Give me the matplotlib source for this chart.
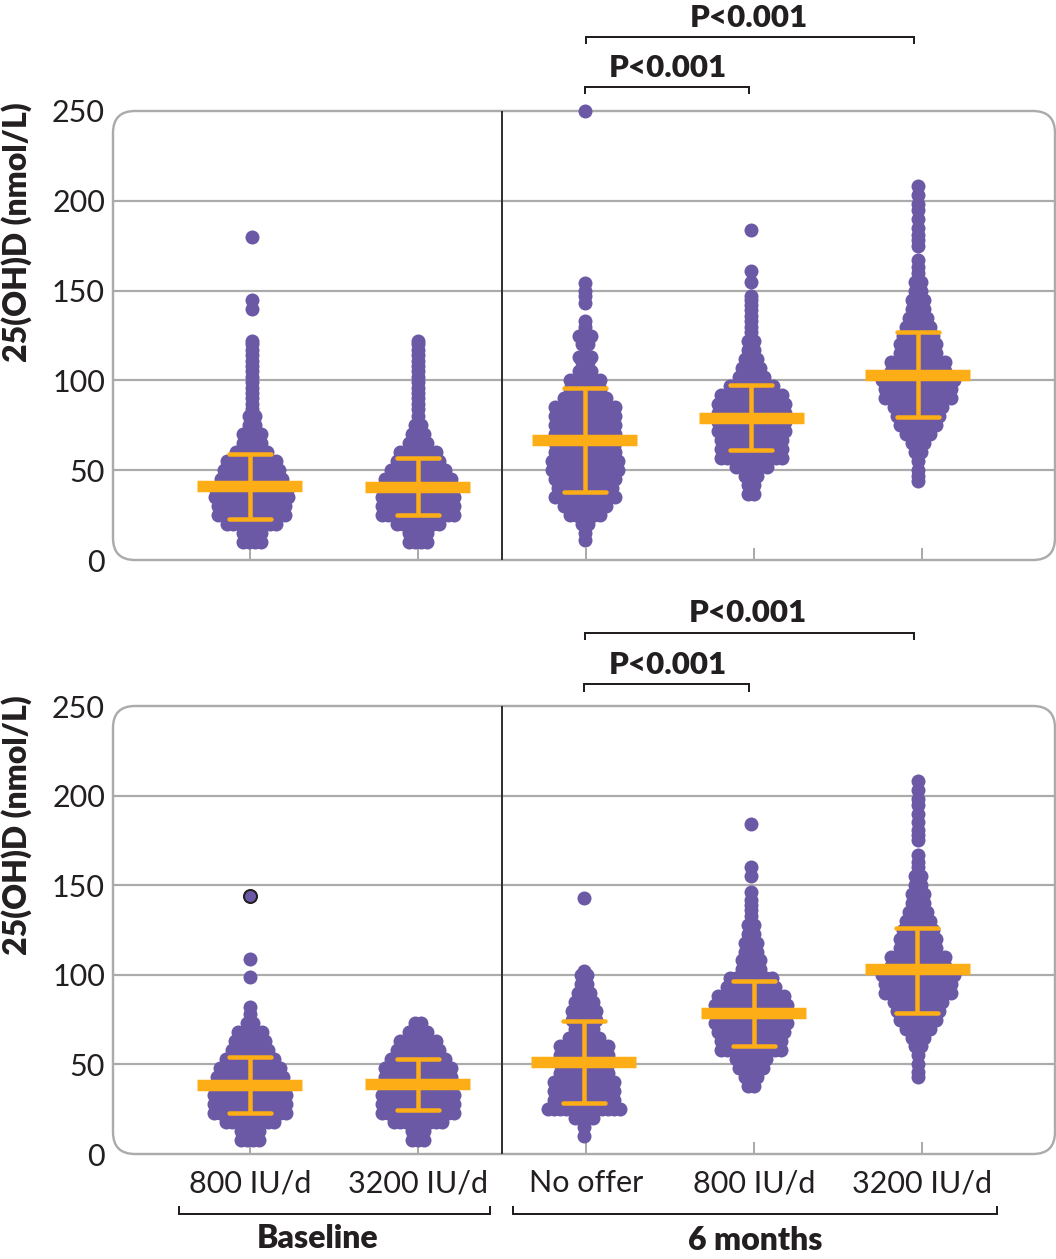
import numpy as np
import matplotlib
matplotlib.use('Agg')
import matplotlib.pyplot as plt
from matplotlib.patches import FancyBboxPatch

plt.rcParams['font.family'] = ['Lato', 'DejaVu Sans']

groups = ['800 IU/d', '3200 IU/d', 'No offer', '800 IU/d', '3200 IU/d']
yticks = [0, 50, 100, 150, 200, 250]
gridlines = [50, 100, 150, 200]

top_levels = [
    [10, 15, 20, 25, 30, 35, 40, 45, 50, 55, 60, 65, 70, 75, 80, 84, 87, 90, 93, 96, 99, 102, 105, 108, 111, 114, 117, 120, 122, 140, 145, 180],
    [10, 15, 20, 25, 30, 35, 40, 45, 50, 55, 60, 65, 70, 75, 80, 84, 87, 90, 93, 96, 99, 102, 105, 108, 111, 114, 117, 120, 122],
    [11, 15, 20, 25, 30, 35, 40, 45, 50, 55, 60, 65, 70, 75, 80, 85, 90, 95, 100, 105, 110, 113, 120, 125, 130, 133, 143, 147, 150, 154, 250],
    [37, 42, 47, 52, 57, 62, 67, 72, 77, 82, 87, 92, 97, 102, 107, 112, 117, 122, 127, 130, 133, 136, 139, 142, 145, 147, 155, 161, 184],
    [44, 47, 50, 55, 60, 65, 70, 75, 80, 85, 90, 95, 100, 105, 110, 115, 120, 125, 130, 135, 140, 145, 150, 155, 160, 163, 167, 175, 178, 181, 185, 190, 195, 198, 203, 208],
]
top_counts = [
    [4, 4, 9, 12, 12, 13, 13, 11, 10, 9, 6, 4, 4, 2, 2, 1, 1, 1, 1, 1, 1, 1, 1, 1, 1, 1, 1, 1, 1, 1, 1, 1],
    [4, 4, 8, 13, 13, 13, 12, 12, 10, 8, 7, 4, 3, 2, 1, 1, 1, 1, 1, 1, 1, 1, 1, 1, 1, 1, 1, 1, 1],
    [1, 1, 2, 6, 8, 11, 10, 11, 12, 12, 11, 11, 11, 11, 11, 11, 8, 6, 6, 3, 2, 3, 2, 3, 1, 1, 1, 1, 1, 1, 1],
    [2, 2, 3, 6, 11, 11, 11, 12, 12, 12, 12, 11, 8, 5, 4, 3, 2, 2, 1, 1, 1, 1, 1, 1, 1, 1, 1, 1, 1],
    [1, 1, 1, 1, 2, 3, 5, 7, 8, 9, 12, 12, 13, 10, 10, 7, 7, 6, 5, 4, 3, 3, 2, 2, 1, 1, 1, 1, 1, 1, 1, 1, 1, 1, 1, 1],
]
bottom_levels = [
    [8, 13, 18, 23, 28, 33, 38, 43, 48, 53, 58, 63, 68, 73, 78, 82, 99, 109, 144],
    [8, 13, 18, 23, 28, 33, 38, 43, 48, 53, 58, 63, 68, 73],
    [10, 15, 20, 25, 30, 35, 40, 45, 50, 55, 60, 65, 70, 75, 80, 85, 90, 95, 100, 102, 143],
    [38, 43, 48, 53, 58, 63, 68, 73, 78, 83, 88, 93, 98, 103, 108, 113, 118, 123, 128, 133, 136, 139, 142, 146, 155, 160, 184],
    [43, 46, 50, 55, 60, 65, 70, 75, 80, 85, 90, 95, 100, 105, 110, 115, 120, 125, 130, 135, 140, 145, 150, 155, 160, 163, 167, 175, 178, 181, 185, 190, 195, 198, 203, 208],
]
bottom_counts = [
    [4, 4, 9, 13, 13, 13, 12, 12, 11, 9, 7, 6, 5, 2, 1, 1, 1, 1, 1],
    [3, 3, 9, 13, 13, 13, 12, 12, 12, 10, 8, 7, 4, 2],
    [1, 1, 4, 13, 11, 11, 11, 9, 9, 9, 9, 6, 4, 5, 5, 4, 3, 2, 2, 1, 1],
    [2, 3, 5, 6, 11, 11, 12, 13, 13, 13, 12, 9, 8, 4, 4, 3, 3, 2, 2, 1, 1, 1, 1, 1, 1, 1, 1],
    [1, 1, 1, 1, 2, 3, 5, 7, 8, 9, 12, 12, 13, 10, 10, 7, 7, 6, 5, 4, 3, 3, 2, 2, 1, 1, 1, 1, 1, 1, 1, 1, 1, 1, 1, 1],
]

top_mean = [41, 40.5, 67, 79, 103]
top_hi = [59, 57, 95.5, 97.5, 127]
top_lo = [23, 25, 38, 61, 79.5]
bottom_mean = [38.5, 39, 51.5, 78.5, 103]
bottom_hi = [54, 53, 74, 96.5, 126]
bottom_lo = [23, 24.5, 28.5, 60, 78.5]

W, H = 1056, 1259
PURPLE = '#6B59A6'
ORANGE = '#FDAE17'
GREY = '#ABABAB'
DARK = '#231F20'

# the swarms sit slightly off the tick marks in the original
top_swarm_x = [0.01, 1.0, 1.994, 2.985, 3.976]
top_bar_x = [0.0, 1.0, 1.994, 2.985, 3.976]
bottom_swarm_x = [0.0, 1.0, 1.988, 2.982, 3.976]
bottom_bar_x = [0.0, 1.0, 1.988, 3.0, 3.973]


def px(n):
    return n * 72 / 100


def draw_panel(ax, levels, counts, swarm_x, bar_x, mean, hi, lo):
    ax.set_xlim(-0.815, 4.792)
    ax.set_ylim(0, 250)
    for s in ax.spines.values():
        s.set_visible(False)
    ax.patch.set_visible(False)
    ax.set_yticks(yticks)
    ax.set_xticks(range(5))
    ax.hlines(gridlines, -0.815, 4.792, color=GREY, lw=px(2.2), zorder=1)
    ax.tick_params(axis='y', length=0, pad=px(8), labelsize=22, labelcolor=DARK)
    ax.tick_params(axis='x', direction='in', length=px(12), width=px(2), color=GREY,
                   labelsize=22, labelcolor=DARK, pad=px(15))

    bw, bh = ax.get_position().width * W, ax.get_position().height * H
    frame = FancyBboxPatch((0, 0), 1, 1, transform=ax.transAxes, fill=False, ec=GREY, lw=px(2.4),
                           boxstyle='round,pad=0,rounding_size=%f' % (22 / bw),
                           mutation_aspect=bw / bh, clip_on=False, zorder=2)
    ax.add_patch(frame)
    ax.axvline(1.5, color='#333333', lw=px(2), zorder=2)

    for i in range(5):
        xs, ys = [], []
        for v, n in zip(levels[i], counts[i]):
            xs.extend(swarm_x[i] + (np.arange(n) - (n - 1) / 2) * 0.036)
            ys.extend([v] * n)
        ax.scatter(xs, ys, s=px(14) ** 2, color=PURPLE, lw=0, clip_on=False, zorder=3)

        x = bar_x[i]
        ax.plot([x, x], [lo[i], hi[i]], color=ORANGE, lw=px(4.5), zorder=4, solid_capstyle='butt')
        for y in (lo[i], hi[i]):
            ax.plot([x - 0.125, x + 0.125], [y, y], color=ORANGE, lw=px(4.5), zorder=4,
                    solid_capstyle='round')
        ax.plot([x - 0.3125, x + 0.3125], [mean[i], mean[i]], color=ORANGE, lw=px(11.5), zorder=4,
                solid_capstyle='butt')


def bracket(ax, x0, x1, y, drop):
    ax.plot([x0, x0, x1, x1], [y + drop, y, y, y + drop], color=DARK, lw=px(2), clip_on=False,
            solid_joinstyle='miter')


fig = plt.figure(figsize=(W / 100, H / 100), dpi=100)
ax1 = fig.add_axes([113 / W, 1 - 560 / H, 942 / W, 449 / H])
ax2 = fig.add_axes([113 / W, 1 - 1154 / H, 942 / W, 448 / H])

draw_panel(ax1, top_levels, top_counts, top_swarm_x, top_bar_x, top_mean, top_hi, top_lo)
draw_panel(ax2, bottom_levels, bottom_counts, bottom_swarm_x, bottom_bar_x, bottom_mean, bottom_hi, bottom_lo)

# dot with the dark ring in the lower panel
ax2.scatter([0], [144], s=px(13) ** 2, color=PURPLE, ec=DARK, lw=px(2), zorder=5)

ax1.set_xticklabels([])
ax2.set_xticklabels(groups)

# P value brackets
bracket(ax1, 2.0, 3.952, 291.2, -3.4)
bracket(ax1, 1.994, 2.97, 263.4, -3.4)
ax1.text(2.97, 301.8, 'P<0.001', ha='center', va='center', fontsize=22.5, fontweight='heavy', color=DARK)
ax1.text(2.485, 273.9, 'P<0.001', ha='center', va='center', fontsize=22.5, fontweight='heavy', color=DARK)
bracket(ax2, 1.994, 3.952, 291, -3.4)
bracket(ax2, 1.988, 2.97, 262, -3.4)
ax2.text(2.965, 302, 'P<0.001', ha='center', va='center', fontsize=22.5, fontweight='heavy', color=DARK)
ax2.text(2.485, 273, 'P<0.001', ha='center', va='center', fontsize=22.5, fontweight='heavy', color=DARK)

# group brackets under the lower panel
bracket(ax2, -0.423, 1.429, -33.5, 3.9)
bracket(ax2, 1.565, 4.446, -33.5, 3.9)
ax2.text(0.4, -47, 'Baseline', ha='center', va='center', fontsize=23, fontweight='heavy', color=DARK)
ax2.text(3.006, -48, '6 months', ha='center', va='center', fontsize=23, fontweight='heavy', color=DARK)

fig.text(17 / W, 1 - 232 / H, '25(OH)D (nmol/L)', rotation=90, ha='center', va='center',
         fontsize=23, fontweight='heavy', color=DARK)
fig.text(17 / W, 1 - 825 / H, '25(OH)D (nmol/L)', rotation=90, ha='center', va='center',
         fontsize=23, fontweight='heavy', color=DARK)

fig.savefig('out.png', dpi=100)
